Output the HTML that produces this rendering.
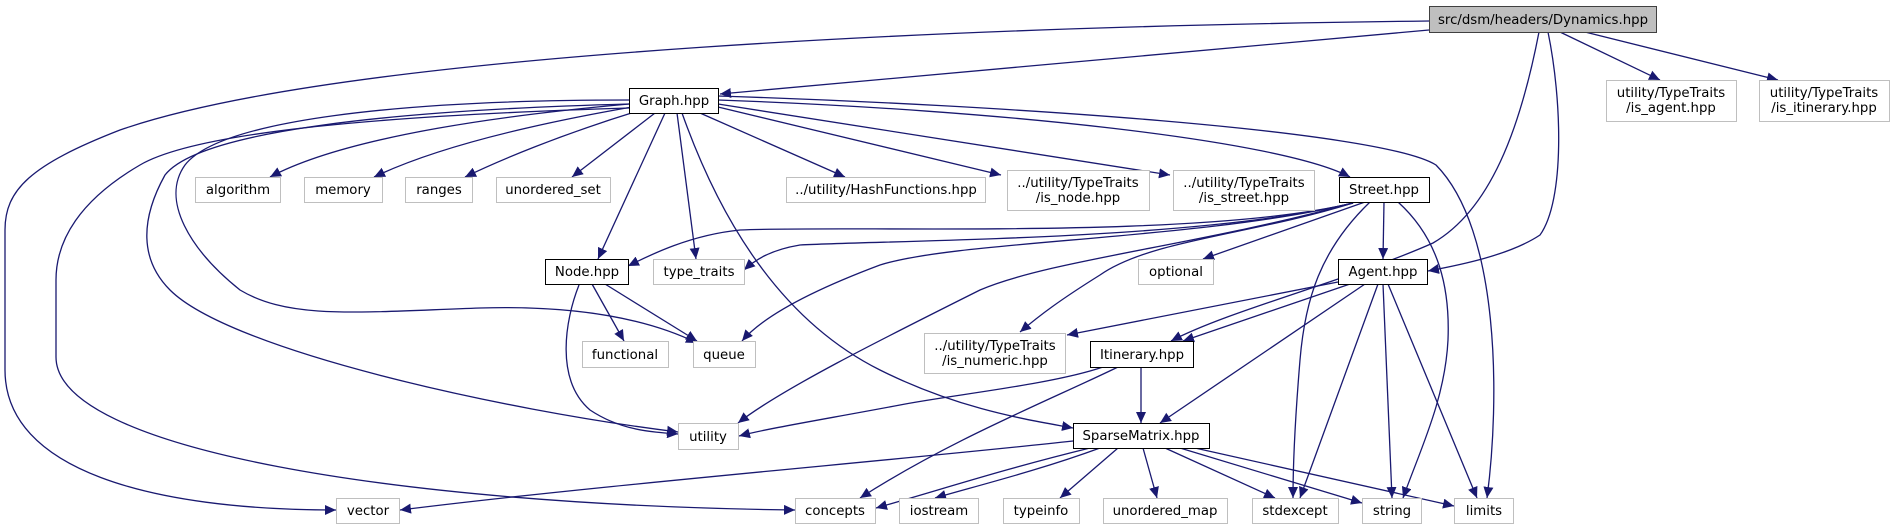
<!DOCTYPE html>
<html><head><meta charset="utf-8"><style>
html,body{margin:0;padding:0;background:#fff;}
svg{display:block;}
text{font-family:"DejaVu Sans","Liberation Sans",sans-serif;font-size:13.3px;fill:#000;}
</style></head><body>
<svg width="1894" height="529" viewBox="0 0 1894 529" xmlns="http://www.w3.org/2000/svg">
<defs>
<marker id="a" markerWidth="12" markerHeight="10" refX="11" refY="5" orient="auto" markerUnits="userSpaceOnUse">
<path d="M0,0 L11,5 L0,10 Z" fill="#191970"/>
</marker>
</defs>
<g fill="none" stroke="#191970" stroke-width="1.3" marker-end="url(#a)">
<!-- Dynamics -->
<path d="M1429,21 C1000,26 350,50 120,130 C30,165 5,190 5,230 L5,370 C5,470 150,510 336,510"/>
<path d="M1429,30 L720,94"/>
<path d="M1539,32 C1520,130 1490,210 1433,243 C1350,280 1230,310 1171,341"/>
<path d="M1548,32 C1562,100 1565,200 1540,235 C1510,255 1460,265 1428,271"/>
<path d="M1560,32 L1660,80"/>
<path d="M1585,32 L1778,80"/>
<!-- Graph -->
<path d="M629,104 C450,120 330,145 270,177"/>
<path d="M632,107 C500,130 420,155 374,177"/>
<path d="M638,111 C560,135 500,160 465,177"/>
<path d="M655,113 L572,177"/>
<path d="M700,113 L845,177"/>
<path d="M718,107 L1001,175"/>
<path d="M718,104 L1170,175"/>
<path d="M718,100 C1000,110 1280,140 1350,177"/>
<path d="M718,96 C1000,105 1380,130 1436,165 C1500,230 1500,400 1487,498"/>
<path d="M665,113 L598,259"/>
<path d="M677,113 L696,259"/>
<path d="M682,113 C720,220 780,320 880,370 C960,410 1030,420 1073,428"/>
<path d="M629,100 C400,100 220,120 185,165 C160,200 190,250 240,290 C290,320 360,312 480,308 C580,305 650,320 697,343"/>
<path d="M629,104 C400,110 200,130 165,175 C140,220 140,260 170,290 C230,350 500,410 678,432"/>
<path d="M629,108 C400,115 200,130 140,165 C80,200 56,240 56,280 L56,357 C56,450 400,505 795,510"/>
<!-- Node -->
<path d="M592,284 L624,341"/>
<path d="M605,284 L697,341"/>
<path d="M579,285 C565,320 555,380 590,410 C620,430 650,432 678,434"/>
<!-- Street -->
<path d="M1353,203 C1200,240 850,225 740,230 C690,235 650,255 628,266"/>
<path d="M1353,203 C1200,240 900,240 800,245 C770,250 755,260 744,270"/>
<path d="M1353,203 C1200,240 960,240 880,265 C800,295 760,320 742,341"/>
<path d="M1353,203 C1200,245 1050,260 980,290 C880,340 780,390 738,423"/>
<path d="M1353,203 C1250,235 1150,240 1100,275 C1060,300 1040,315 1020,332"/>
<path d="M1365,202 L1203,259"/>
<path d="M1384,202 L1383,259"/>
<path d="M1370,202 C1320,250 1305,300 1300,360 C1295,420 1293,460 1293,498"/>
<path d="M1398,202 C1440,240 1450,290 1448,340 C1445,400 1420,450 1403,498"/>
<!-- Agent -->
<path d="M1338,282 L1067,335"/>
<path d="M1350,284 L1183,341"/>
<path d="M1365,284 L1160,423"/>
<path d="M1378,284 L1300,498"/>
<path d="M1383,284 L1392,498"/>
<path d="M1388,284 L1477,498"/>
<!-- Itinerary -->
<path d="M1141,367 L1141,423"/>
<path d="M1103,367 C1050,385 950,395 900,405 C820,420 770,428 739,436"/>
<path d="M1118,367 C1050,400 950,440 860,498"/>
<!-- SparseMatrix -->
<path d="M1073,441 C900,460 600,485 400,510"/>
<path d="M1090,448 C1000,470 940,490 876,508"/>
<path d="M1100,448 C1040,470 980,485 935,498"/>
<path d="M1118,448 L1060,498"/>
<path d="M1143,448 L1157,498"/>
<path d="M1165,448 L1275,498"/>
<path d="M1180,448 L1362,503"/>
<path d="M1195,448 L1454,506"/>
</g>
<g stroke-width="1">
<rect x="1429.5" y="6.5" width="227" height="26" fill="#bfbfbf" stroke="#404040"/>
<text x="1543" y="24" text-anchor="middle">src/dsm/headers/Dynamics.hpp</text>
<g fill="#fff" stroke="#000">
<rect x="629.5" y="88.5" width="89" height="25"/>
<rect x="1339.5" y="177.5" width="90" height="25"/>
<rect x="545.5" y="259.5" width="83" height="25"/>
<rect x="1338.5" y="259.5" width="89" height="25"/>
<rect x="1090.5" y="341.5" width="103" height="26"/>
<rect x="1073.5" y="423.5" width="136" height="25"/>
</g>
<g fill="#fff" stroke="#bfbfbf">
<rect x="1606.5" y="80.5" width="130" height="41"/>
<rect x="1759.5" y="80.5" width="130" height="41"/>
<rect x="195.5" y="177.5" width="85" height="25"/>
<rect x="304.5" y="177.5" width="78" height="25"/>
<rect x="405.5" y="177.5" width="67" height="25"/>
<rect x="496.5" y="177.5" width="114" height="25"/>
<rect x="786.5" y="177.5" width="199" height="25"/>
<rect x="1007.5" y="170.5" width="142" height="40"/>
<rect x="1173.5" y="170.5" width="141" height="40"/>
<rect x="653.5" y="259.5" width="91" height="25"/>
<rect x="1138.5" y="259.5" width="75" height="25"/>
<rect x="582.5" y="341.5" width="86" height="26"/>
<rect x="693.5" y="341.5" width="62" height="26"/>
<rect x="924.5" y="333.5" width="141" height="40"/>
<rect x="678.5" y="423.5" width="60" height="26"/>
<rect x="336.5" y="498.5" width="63" height="25"/>
<rect x="795.5" y="498.5" width="80" height="25"/>
<rect x="899.5" y="498.5" width="79" height="25"/>
<rect x="1003.5" y="498.5" width="76" height="25"/>
<rect x="1103.5" y="498.5" width="124" height="25"/>
<rect x="1252.5" y="498.5" width="86" height="25"/>
<rect x="1362.5" y="498.5" width="59" height="25"/>
<rect x="1454.5" y="498.5" width="59" height="25"/>
</g>
</g>
<g text-anchor="middle">
<text x="674" y="105">Graph.hpp</text>
<text x="1384" y="194">Street.hpp</text>
<text x="587" y="276">Node.hpp</text>
<text x="1383" y="276">Agent.hpp</text>
<text x="1142" y="359">Itinerary.hpp</text>
<text x="1141" y="440">SparseMatrix.hpp</text>
<text x="1671" y="97">utility/TypeTraits</text>
<text x="1671" y="112">/is_agent.hpp</text>
<text x="1824" y="97">utility/TypeTraits</text>
<text x="1824" y="112">/is_itinerary.hpp</text>
<text x="238" y="194">algorithm</text>
<text x="343" y="194">memory</text>
<text x="439" y="194">ranges</text>
<text x="553" y="194">unordered_set</text>
<text x="886" y="194">../utility/HashFunctions.hpp</text>
<text x="1078" y="187">../utility/TypeTraits</text>
<text x="1078" y="202">/is_node.hpp</text>
<text x="1244" y="187">../utility/TypeTraits</text>
<text x="1244" y="202">/is_street.hpp</text>
<text x="699" y="276">type_traits</text>
<text x="1176" y="276">optional</text>
<text x="625" y="359">functional</text>
<text x="724" y="359">queue</text>
<text x="995" y="350">../utility/TypeTraits</text>
<text x="995" y="365">/is_numeric.hpp</text>
<text x="708" y="441">utility</text>
<text x="368" y="515">vector</text>
<text x="835" y="515">concepts</text>
<text x="939" y="515">iostream</text>
<text x="1041" y="515">typeinfo</text>
<text x="1165" y="515">unordered_map</text>
<text x="1295" y="515">stdexcept</text>
<text x="1392" y="515">string</text>
<text x="1484" y="515">limits</text>
</g>
</svg>
</body></html>
